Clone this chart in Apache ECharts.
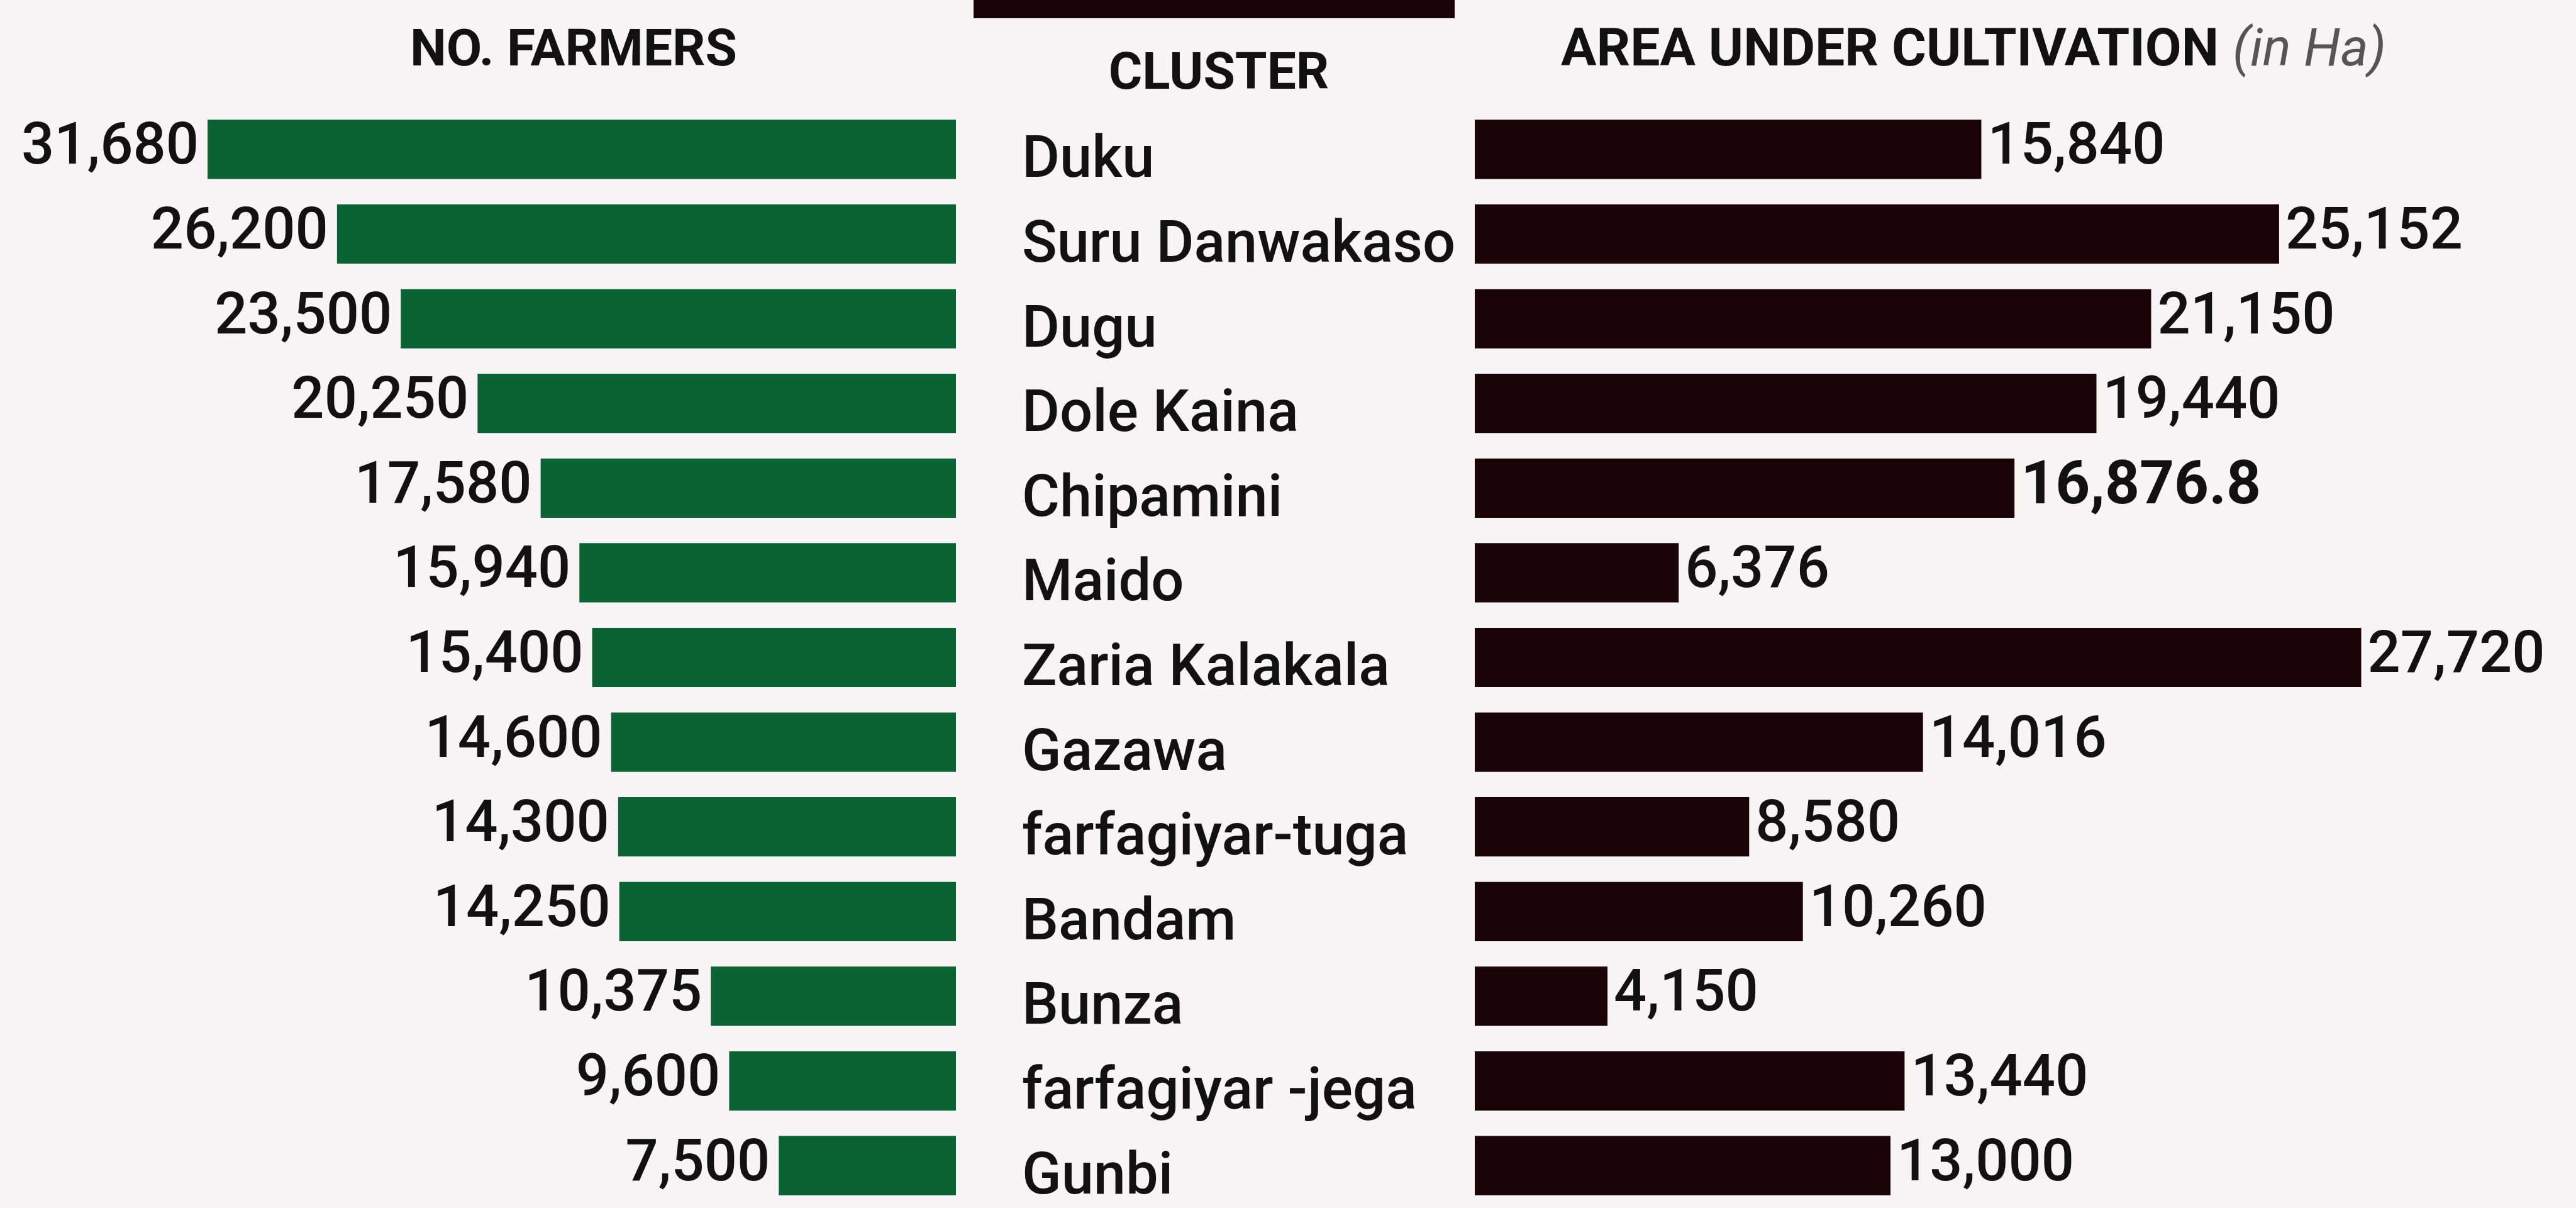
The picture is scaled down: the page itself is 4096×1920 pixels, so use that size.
<!DOCTYPE html>
<html>
<head>
<meta charset="utf-8">
<title>Farmers and area under cultivation by cluster</title>
<script src="https://cdn.jsdelivr.net/npm/echarts@6/dist/echarts.min.js"></script>
<style>
  html, body { margin: 0; padding: 0; background: #f6f4f4; }
  #chart { width: 4096px; height: 1920px; }
</style>
</head>
<body>
<div id="chart"></div>
<script>
// Clusters, top to bottom
const clusters = [
  'Duku', 'Suru Danwakaso', 'Dugu', 'Dole Kaina', 'Chipamini', 'Maido',
  'Zaria Kalakala', 'Gazawa', 'farfagiyar-tuga', 'Bandam', 'Bunza',
  'farfagiyar -jega', 'Gunbi'
];
// Number of farmers per cluster
const farmers = [31680, 26200, 23500, 20250, 17580, 15940, 15400, 14600, 14300, 14250, 10375, 9600, 7500];
// Area under cultivation per cluster (Ha)
const area = [15840, 25152, 21150, 19440, 16876.8, 6376, 27720, 14016, 8580, 10260, 4150, 13440, 13000];

const FONT = 'Roboto';
const GREEN = '#0b6335';
const DARK = '#1b0407';
const INK = '#111111';

const fmt = v => Number(v).toLocaleString('en-US', { maximumFractionDigits: 1 });

const chart = echarts.init(document.getElementById('chart'), null, { renderer: 'canvas' });

const gridTop = 170;
const gridHeight = 1762;

chart.setOption({
  backgroundColor: '#f6f4f4',
  animation: false,
  textStyle: { fontFamily: FONT },
  grid: [
    { left: 318, width: 1202, top: gridTop, height: gridHeight },
    { left: 2345, width: 1500, top: gridTop, height: gridHeight }
  ],
  xAxis: [
    {
      gridIndex: 0, type: 'value', inverse: true, min: 0, max: 32000,
      axisLine: { show: false }, axisTick: { show: false },
      axisLabel: { show: false }, splitLine: { show: false }
    },
    {
      gridIndex: 1, type: 'value', min: 0, max: 29500,
      axisLine: { show: false }, axisTick: { show: false },
      axisLabel: { show: false }, splitLine: { show: false }
    }
  ],
  yAxis: [
    {
      // cluster names sit between the two bar panels
      gridIndex: 0, type: 'category', data: clusters, inverse: true,
      position: 'right',
      axisLine: { show: false }, axisTick: { show: false },
      axisLabel: {
        margin: 105, color: INK, fontFamily: FONT,
        formatter: v => '{n|' + v + '}',
        rich: {
          n: {
            fontSize: 92, fontWeight: 500, color: INK, fontFamily: FONT,
            padding: [42, 0, 0, 0]
          }
        }
      }
    },
    {
      gridIndex: 1, type: 'category', data: clusters, inverse: true,
      axisLine: { show: false }, axisTick: { show: false },
      axisLabel: { show: false }
    }
  ],
  series: [
    {
      name: 'No. farmers', type: 'bar', xAxisIndex: 0, yAxisIndex: 0,
      data: farmers, barCategoryGap: '30%',
      itemStyle: { color: GREEN },
      label: {
        show: true, position: 'left', distance: 14,
        fontSize: 92, fontWeight: 500, color: INK, fontFamily: FONT,
        formatter: p => fmt(p.value)
      }
    },
    {
      name: 'Area under cultivation', type: 'bar', xAxisIndex: 1, yAxisIndex: 1,
      data: area.map(v => (v % 1 !== 0
        ? { value: v, label: { fontWeight: 'bold', fontSize: 96 } }
        : v)),
      barCategoryGap: '30%',
      itemStyle: { color: DARK },
      label: {
        show: true, position: 'right', distance: 10,
        fontSize: 92, fontWeight: 500, color: INK, fontFamily: FONT,
        formatter: p => fmt(p.value)
      }
    }
  ],
  graphic: [
    {
      type: 'rect', silent: true,
      shape: { x: 1548, y: -10, width: 765, height: 39 },
      style: { fill: DARK }
    },
    {
      type: 'text', silent: true, x: 912, y: 83,
      style: {
        text: 'NO. FARMERS', fontFamily: FONT, fontWeight: 'bold',
        fontSize: 82, fill: INK, align: 'center', verticalAlign: 'middle'
      }
    },
    {
      type: 'text', silent: true, x: 1938, y: 120,
      style: {
        text: 'CLUSTER', fontFamily: FONT, fontWeight: 'bold',
        fontSize: 82, fill: INK, align: 'center', verticalAlign: 'middle'
      }
    },
    {
      type: 'text', silent: true, x: 2482, y: 83,
      style: {
        text: '{b|AREA UNDER CULTIVATION}{i|(in Ha)}',
        fontFamily: FONT, align: 'left', verticalAlign: 'middle',
        rich: {
          b: { fontFamily: FONT, fontWeight: 'bold', fontSize: 84, fill: INK },
          i: {
            fontFamily: FONT, fontStyle: 'italic', fontSize: 84, fill: '#555555',
            padding: [0, 0, 0, 22]
          }
        }
      }
    }
  ]
});
</script>
</body>
</html>
